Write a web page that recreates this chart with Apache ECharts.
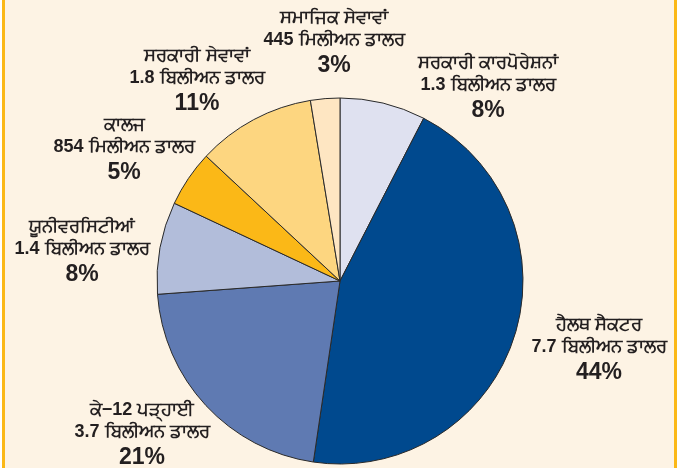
<!DOCTYPE html>
<html>
<head>
<meta charset="utf-8">
<script src="https://cdn.jsdelivr.net/npm/echarts@6/dist/echarts.min.js"></script>
<style>
  html, body { margin: 0; padding: 0; background: #fff; }
  #chart { width: 686px; height: 468px; }
</style>
</head>
<body>
<div id="chart"></div>
<script>
// sectors, clockwise from 12 o'clock
var sectors = ['ਸਰਕਾਰੀ ਕਾਰਪੋਰੇਸ਼ਨਾਂ', 'ਹੈਲਥ ਸੈਕਟਰ', 'ਕੇ−12 ਪੜ੍ਹਾਈ', 'ਯੂਨੀਵਰਸਿਟੀਆਂ', 'ਕਾਲਜ', 'ਸਰਕਾਰੀ ਸੇਵਾਵਾਂ', 'ਸਮਾਜਿਕ ਸੇਵਾਵਾਂ'];
// amounts in billion dollars
var amounts = [1.3, 7.7, 3.7, 1.4, 0.854, 1.8, 0.445];
var amountText = ['1.3 ਬਿਲੀਅਨ ਡਾਲਰ', '7.7 ਬਿਲੀਅਨ ਡਾਲਰ', '3.7 ਬਿਲੀਅਨ ਡਾਲਰ', '1.4 ਬਿਲੀਅਨ ਡਾਲਰ', '854 ਮਿਲੀਅਨ ਡਾਲਰ', '1.8 ਬਿਲੀਅਨ ਡਾਲਰ', '445 ਮਿਲੀਅਨ ਡਾਲਰ'];
var shares = [8, 44, 21, 8, 5, 11, 3];

var colors = ['#dfe1f0', '#00498e', '#5f7ab2', '#b2bdda', '#fbb817', '#fdd680', '#fee6c2'];
// label block centres
var labelPos = [[488, 89], [599, 351], [142, 436], [82, 253], [124, 151], [197, 82], [334, 44]];

var chart = echarts.init(document.getElementById('chart'));

var pieData = sectors.map(function (s, i) {
    return {name: s, value: amounts[i], itemStyle: {color: colors[i]}};
});

var txt = {fontFamily: 'Liberation Sans, Arial, sans-serif', fontSize: 18, fontWeight: 'bold', color: '#231f20', lineHeight: 22, align: 'center'};

var option = {
    backgroundColor: '#ffffff',
    animation: false,
    graphic: [
        {type: 'rect', z: -10, shape: {x: 5, y: 0, width: 669, height: 468}, style: {fill: '#fdf3e4'}},
        {type: 'rect', z: -9, shape: {x: 2, y: 0, width: 3, height: 468}, style: {fill: '#fbb817'}},
        {type: 'rect', z: -9, shape: {x: 674, y: 0, width: 3, height: 468}, style: {fill: '#fbb817'}}
    ],
    series: [{
        type: 'pie',
        center: [340, 281],
        radius: 183,
        startAngle: 90,
        clockwise: true,
        itemStyle: {borderColor: '#2a2a2a', borderWidth: 1},
        label: {
            show: true,
            position: 'outside',
            overflow: 'none',
            width: 300,
            formatter: function (p) {
                var i = p.dataIndex;
                return '{n|' + sectors[i] + '}\n{v|' + amountText[i] + '}\n{p|' + shares[i] + '%}';
            },
            align: 'center',
            rich: {
                n: txt,
                v: txt,
                p: {fontFamily: 'Liberation Sans, Arial, sans-serif', fontSize: 23, fontWeight: 'bold', color: '#231f20', lineHeight: 30, align: 'center'}
            }
        },
        labelLine: {show: false},
        labelLayout: function (params) {
            var pos = labelPos[params.dataIndex];
            return {x: pos[0], y: pos[1], align: 'center', verticalAlign: 'middle'};
        },
        emphasis: {disabled: true},
        data: pieData
    }]
};

chart.setOption(option);
</script>
</body>
</html>
